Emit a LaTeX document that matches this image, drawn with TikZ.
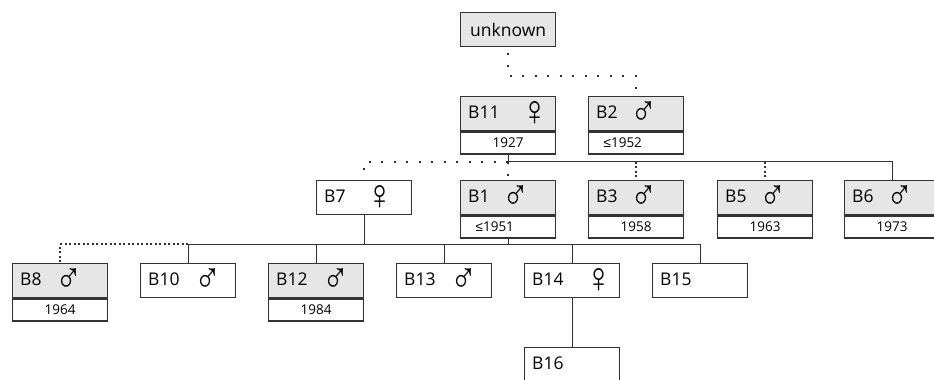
\documentclass[tikz,border=0pt]{standalone}
\usepackage{fontspec}
\setmainfont{Open Sans}
\newfontfamily\symfam{Liberation Sans}
\newfontfamily\lefam{Liberation Sans}
\usetikzlibrary{calc}
\definecolor{lc}{HTML}{333333}
\definecolor{boxgrey}{HTML}{E6E6E6}
\newcommand\lblfont{\fontsize{17.5}{20}\selectfont}
\newcommand\datefont{\fontsize{13.5}{15}\selectfont}
\newcommand\symfont{\symfam\fontsize{38}{40}\selectfont}
\newcommand\malesym{\scalebox{0.95}[1.12]{♂}}
\newcommand\femsym{\scalebox{0.95}[1.12]{♀}}
\begin{document}
\begin{tikzpicture}[x=1pt,y=-1pt,
  hdr/.style={draw=lc, line width=1.3pt, minimum width=95pt, minimum height=34pt, inner sep=0pt, anchor=north west},
  gry/.style={hdr, fill=boxgrey},
  wht/.style={hdr, fill=white},
  datebox/.style={draw=lc, line width=1.3pt, fill=white, minimum width=95pt, minimum height=22pt, inner sep=0pt, anchor=north, font=\datefont},
  lbl/.style={anchor=base west, font=\lblfont, inner sep=0pt},
  sym/.style={anchor=center, font=\symfont, inner sep=0pt},
  conn/.style={draw=lc, line width=1.3pt},
  sparse/.style={draw=lc, line width=2pt, dash pattern=on 2pt off 10.5pt, dash phase=7pt},
  dense/.style={draw=lc, line width=2pt, dash pattern=on 2pt off 2.5pt},
]
\clip (0,0) rectangle (934,380);
\fill[white] (0,0) rectangle (934,380);

% generation 0
\node[gry, font=\lblfont] (unknown) at (460,12) {unknown};

% generation 1
\node[gry] (B11) at (460,96) {};
\node[lbl] (B11l) at ([xshift=8pt,yshift=-5pt]B11.west) {B11};
\node[sym] (B11s) at ([xshift=75pt,yshift=0pt]B11.west) {\femsym};
\node[datebox] (B11d) at (B11.south) {1927};

\node[gry] (B2) at (588,96) {};
\node[lbl] (B2l) at ([xshift=8pt,yshift=-5pt]B2.west) {B2};
\node[sym] (B2s) at ([xshift=56pt,yshift=0pt]B2.west) {\malesym};
\node[datebox] (B2d) at (B2.south) {\makebox[95pt][l]{\hspace{15pt}{\lefam ≤}1952}};

% generation 2
\node[wht] (B7) at (316,180) {};
\node[lbl] (B7l) at ([xshift=8pt,yshift=-5pt]B7.west) {B7};
\node[sym] (B7s) at ([xshift=64pt,yshift=0pt]B7.west) {\femsym};

\node[gry] (B1) at (460,180) {};
\node[lbl] (B1l) at ([xshift=8pt,yshift=-5pt]B1.west) {B1};
\node[sym] (B1s) at ([xshift=56pt,yshift=0pt]B1.west) {\malesym};
\node[datebox] (B1d) at (B1.south) {\makebox[95pt][l]{\hspace{15pt}{\lefam ≤}1951}};

\node[gry] (B3) at (588,180) {};
\node[lbl] (B3l) at ([xshift=8pt,yshift=-5pt]B3.west) {B3};
\node[sym] (B3s) at ([xshift=56pt,yshift=0pt]B3.west) {\malesym};
\node[datebox] (B3d) at (B3.south) {1958};

\node[gry] (B5) at (717,180) {};
\node[lbl] (B5l) at ([xshift=8pt,yshift=-5pt]B5.west) {B5};
\node[sym] (B5s) at ([xshift=56pt,yshift=0pt]B5.west) {\malesym};
\node[datebox] (B5d) at (B5.south) {1963};

\node[gry] (B6) at (844,180) {};
\node[lbl] (B6l) at ([xshift=8pt,yshift=-5pt]B6.west) {B6};
\node[sym] (B6s) at ([xshift=56pt,yshift=0pt]B6.west) {\malesym};
\node[datebox] (B6d) at (B6.south) {1973};

% generation 3
\node[gry] (B8) at (12,263) {};
\node[lbl] (B8l) at ([xshift=8pt,yshift=-5pt]B8.west) {B8};
\node[sym] (B8s) at ([xshift=57pt,yshift=0pt]B8.west) {\malesym};
\node[datebox] (B8d) at (B8.south) {1964};

\node[wht] (B10) at (140,263) {};
\node[lbl] (B10l) at ([xshift=8pt,yshift=-5pt]B10.west) {B10};
\node[sym] (B10s) at ([xshift=68pt,yshift=0pt]B10.west) {\malesym};

\node[gry] (B12) at (268,263) {};
\node[lbl] (B12l) at ([xshift=8pt,yshift=-5pt]B12.west) {B12};
\node[sym] (B12s) at ([xshift=68pt,yshift=0pt]B12.west) {\malesym};
\node[datebox] (B12d) at (B12.south) {1984};

\node[wht] (B13) at (396,263) {};
\node[lbl] (B13l) at ([xshift=8pt,yshift=-5pt]B13.west) {B13};
\node[sym] (B13s) at ([xshift=68pt,yshift=0pt]B13.west) {\malesym};

\node[wht] (B14) at (524,263) {};
\node[lbl] (B14l) at ([xshift=8pt,yshift=-5pt]B14.west) {B14};
\node[sym] (B14s) at ([xshift=75pt,yshift=0pt]B14.west) {\femsym};

\node[wht] (B15) at (652,263) {};
\node[lbl] (B15l) at ([xshift=8pt,yshift=-5pt]B15.west) {B15};

% generation 4
\node[wht] (B16) at (524,347) {};
\node[lbl] (B16l) at ([xshift=8pt,yshift=-5pt]B16.west) {B16};

% connectors
\coordinate (j0) at ([yshift=-29pt]unknown.south);
\draw[sparse] (unknown.south) -- (j0) -- (j0 -| B2.north) -- (B2.north);

\coordinate (j1) at ([yshift=-7pt]B11d.south);
\draw[conn] (B11d.south) -- (j1) -- (j1 -| B6.north) -- (B6.north);
\draw[sparse, dash phase=0pt] (j1) -- (j1 -| B7.north) -- (B7.north);
\draw[sparse, dash phase=0pt] (j1) -- (B1.north);
\draw[dense] (j1 -| B3.north) -- (B3.north);
\draw[dense] (j1 -| B5.north) -- (B5.north);

\coordinate (j2) at ([yshift=-29pt]B7.south);
\draw[conn] (B7.south) -- (j2);
\draw[conn] (B1d.south) -- (B1d.south |- j2);
\draw[conn] (j2 -| B10.north) -- (j2 -| B15.north) -- (B15.north);
\draw[dense] (j2 -| B10.north) -- (j2 -| B8.north) -- (B8.north);
\foreach \c in {B10,B12,B13,B14} \draw[conn] (j2 -| \c.north) -- (\c.north);
\draw[conn] (B14.south) -- (B16.north);
\end{tikzpicture}
\end{document}
